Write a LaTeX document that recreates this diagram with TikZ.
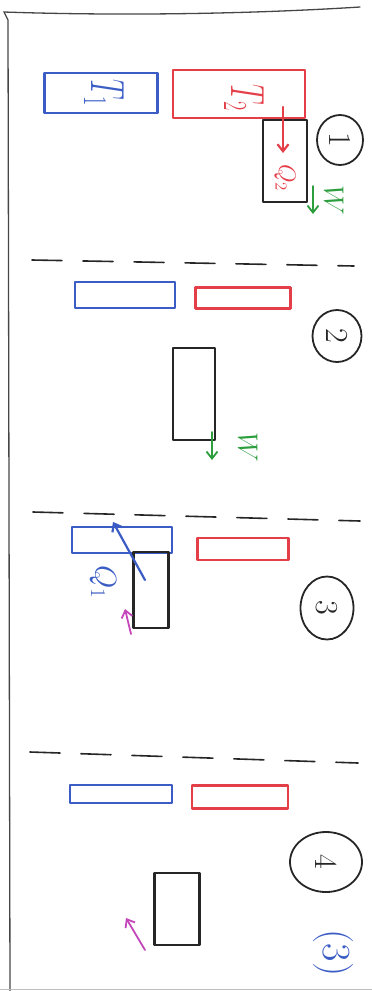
\RequirePackage{fix-cm}
\documentclass[tikz,border=0pt]{standalone}
\usepackage{xcolor}
\usepackage{tikz}
\usetikzlibrary{arrows.meta, positioning, shapes.geometric}
\definecolor{skblue}{RGB}{58,92,196}
\definecolor{skred}{RGB}{228,62,72}
\definecolor{skink}{RGB}{38,38,38}
\definecolor{skgreen}{RGB}{44,158,62}
\definecolor{skmagenta}{RGB}{196,70,186}
\definecolor{skedge}{RGB}{70,70,70}
\newcommand{\turned}[1]{\rotatebox{-90}{#1}}
\tikzset{
  inkline/.style   = {line width=2.2pt, line cap=round, line join=round},
  coldbox/.style   = {rectangle, draw=skblue, inkline, inner sep=0pt},
  hotbox/.style    = {rectangle, draw=skred, inkline, inner sep=0pt},
  gasbox/.style    = {rectangle, draw=skink, inkline, inner sep=0pt},
  stagemark/.style = {ellipse, draw=skink, line width=1.8pt, inner sep=0pt,
                      text=skink, font=\fontsize{32}{32}\selectfont},
  wallline/.style  = {draw=skink, line width=1.6pt, line cap=round,
                      dash pattern=on 30pt off 21pt},
  bigtag/.style    = {inner sep=0pt, font=\fontsize{48}{48}\selectfont},
  smalltag/.style  = {inner sep=0pt, font=\fontsize{24}{24}\selectfont},
  flowarrow/.style = {inkline, -{Straight Barb[length=7pt,width=11pt]}},
}

\begin{document}
\begin{tikzpicture}[x=1pt, y=-1pt]
\useasboundingbox (0,0) rectangle (372,991);

% ---------- card edge ----------
\draw[skedge, line width=1.3pt, line cap=round]
  (360,7) .. controls (250,14) and (120,16) .. (4,12) -- (8,20) -- (10,991);
\draw[black!25, line width=1pt] (0,989) -- (372,989);

% ---------- stage 1 ----------
\node[coldbox, minimum width=113pt, minimum height=40pt] (coldA) at (101,93) {};
\node[bigtag, text=skblue] (coldAtag) at (104,93) {\turned{\scalebox{0.6}[1]{$T_1$}}};
\node[hotbox, minimum width=132pt, minimum height=48pt] (hotA) at (239,94) {};
\node[bigtag, text=skred] (hotAtag) at (244,98) {\turned{\scalebox{0.6}[1]{$T_2$}}};
\node[gasbox, minimum width=44pt, minimum height=82pt] (gasA) at (285,161) {};
\coordinate (heatA1) at (283,107);
\coordinate (heatA2) at (283,153);
\draw[flowarrow, skred] (heatA1) -- (heatA2);
\node[smalltag, text=skred] (heatAtag) at (285,178) {\turned{$Q_2$}};
\coordinate (workA1) at (313,186);
\coordinate (workA2) at (313,214);
\draw[flowarrow, skgreen, line width=1.8pt] (workA1) -- (workA2);
\node[smalltag, text=skgreen, font=\fontsize{28}{28}\selectfont] (workAtag) at (334,200) {\turned{$W$}};
\node[stagemark, minimum width=46pt, minimum height=50pt] (stageA) at (340,140) {\turned{1}};

% ---------- stage 2 ----------
\coordinate (wallB1) at (32,260);
\coordinate (wallB2) at (354,266);
\draw[wallline] (wallB1) -- (wallB2);
\node[coldbox, minimum width=100pt, minimum height=26pt] (coldB) at (125,295) {};
\node[hotbox, minimum width=95pt, minimum height=21pt] (hotB) at (243,298) {};
\node[gasbox, minimum width=42pt, minimum height=92pt] (gasB) at (194,394) {};
\coordinate (workB1) at (212,432);
\coordinate (workB2) at (212,460);
\draw[flowarrow, skgreen, line width=1.8pt] (workB1) -- (workB2);
\node[smalltag, text=skgreen, font=\fontsize{28}{28}\selectfont] (workBtag) at (248,447) {\turned{$W$}};
\node[stagemark, minimum width=49pt, minimum height=52pt] (stageB) at (337,336) {\turned{2}};

% ---------- stage 3 ----------
\coordinate (wallC1) at (33,512);
\coordinate (wallC2) at (360,521);
\draw[wallline] (wallC1) -- (wallC2);
\node[coldbox, minimum width=100pt, minimum height=26pt] (coldC) at (122,540) {};
\node[hotbox, minimum width=91pt, minimum height=22pt] (hotC) at (243,549) {};
\node[gasbox, minimum width=35pt, minimum height=76pt] (gasC) at (151,590) {};
\coordinate (heatC1) at (145,580);
\coordinate (heatC2) at (113,522);
\draw[flowarrow, skblue] (heatC1) -- (heatC2);
\node[smalltag, text=skblue, font=\fontsize{30}{30}\selectfont] (heatCtag) at (103,582) {\turned{$Q_1$}};
\coordinate (pushC1) at (131,634);
\coordinate (pushC2) at (125,609);
\draw[flowarrow, skmagenta, line width=1.8pt] (pushC1) -- (pushC2);
\node[stagemark, minimum width=53pt, minimum height=63pt] (stageC) at (327,608) {\turned{3}};

% ---------- stage 4 ----------
\coordinate (wallD1) at (30,752);
\coordinate (wallD2) at (358,763);
\draw[wallline] (wallD1) -- (wallD2);
\node[coldbox, minimum width=102pt, minimum height=18pt] (coldD) at (121,794) {};
\node[hotbox, minimum width=96pt, minimum height=23pt] (hotD) at (240,797) {};
\node[gasbox, minimum width=45pt, minimum height=72pt] (gasD) at (177,909) {};
\coordinate (pushD1) at (145,950);
\coordinate (pushD2) at (126,918);
\draw[flowarrow, skmagenta, line width=1.8pt] (pushD1) -- (pushD2);
\node[stagemark, minimum width=72pt, minimum height=60pt] (stageD) at (326,862) {\turned{4}};
\node[inner sep=0pt, text=skblue, font=\fontsize{40}{40}\selectfont] (pageno) at (333,953) {\turned{(3)}};

\end{tikzpicture}
\end{document}
